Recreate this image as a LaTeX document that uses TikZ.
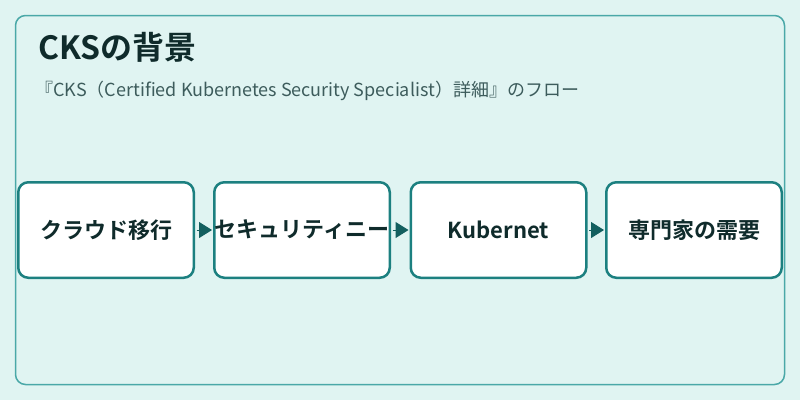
\documentclass[tikz,border=0pt]{standalone}
\usepackage{fontspec}
\setmainfont{Noto Sans CJK JP}[BoldFont=* Bold]
\usetikzlibrary{arrows.meta}
\definecolor{bgteal}{HTML}{E0F4F2}
\definecolor{frameteal}{HTML}{4AA8A8}
\definecolor{boxteal}{HTML}{1C8080}
\definecolor{arrowteal}{HTML}{135F5F}
\definecolor{titleink}{HTML}{0F2B2B}
\definecolor{subink}{HTML}{3D5C5C}

\begin{document}
\begin{tikzpicture}[x=1pt,y=-1pt,
              step box/.style={draw=boxteal,line width=2.5pt,fill=white,
              rounded corners=10pt,minimum width=175.5pt,minimum height=95.5pt,
              inner sep=0pt,font=\fontsize{22}{26}\selectfont\bfseries,
              text=titleink},
              >={Triangle[length=13pt,width=16pt,arrowteal]},
              every edge/.style={draw=arrowteal,line width=1pt,
              shorten <=1.5pt,shorten >=1pt}]
    \fill[bgteal] (0,0) rectangle (800,400);
    \draw[frameteal,line width=1.5pt,rounded corners=10pt] (15.5,15.5) rectangle (784.5,384.5);

    \node[anchor=base west,inner sep=0pt,text=titleink,
          font=\fontsize{32}{36}\selectfont\bfseries] (title) at (38,59) {CKSの背景};
    \node[anchor=base west,inner sep=0pt,text=subink,
          font=\fontsize{18}{21}\selectfont] (sub) at (35,96)
          {『CKS（Certified Kubernetes Security Specialist）詳細』のフロー};

    \node[step box] (cloud) at (106,230) {クラウド移行};
    \node[step box] (secur) at (302,230) {セキュリティニー};
    \node[step box] (kube) at (498.5,230) {Kubernet};
    \node[step box] (demand) at (694,230) {専門家の需要};

    \path [->] (cloud) edge (secur);
    \path [->] (secur) edge (kube);
    \path [->] (kube) edge (demand);
\end{tikzpicture}
\end{document}
